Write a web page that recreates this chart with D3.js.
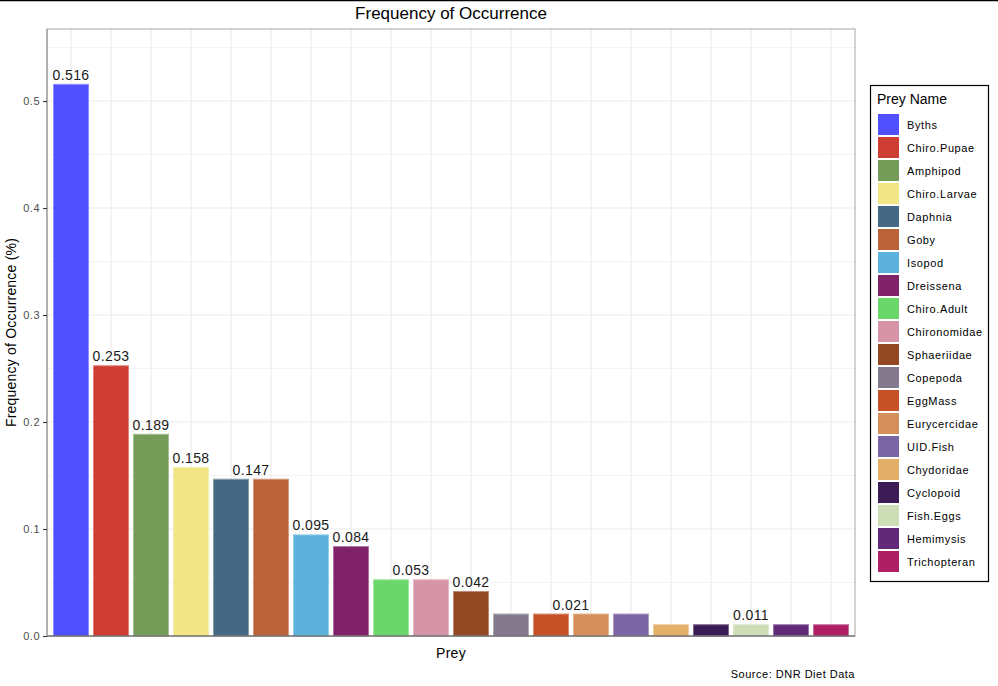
<!DOCTYPE html>
<html><head><meta charset="utf-8">
<script src="https://cdn.jsdelivr.net/npm/d3@7"></script>
<style>body{margin:0;background:#fff;} svg{display:block;font-family:Arial,"Liberation Sans",sans-serif;}</style>
</head><body>
<svg id="chart" width="998" height="686"></svg>
<script>
const categories = ["Byths","Chiro.Pupae","Amphipod","Chiro.Larvae","Daphnia","Goby","Isopod","Dreissena","Chiro.Adult","Chironomidae","Sphaeriidae","Copepoda","EggMass","Eurycercidae","UID.Fish","Chydoridae","Cyclopoid","Fish.Eggs","Hemimysis","Trichopteran"];
const values = [0.516,0.253,0.189,0.158,0.147,0.147,0.095,0.084,0.053,0.053,0.042,0.021,0.021,0.021,0.021,0.011,0.011,0.011,0.011,0.011];
const colors = ["#5050ff","#ce3d32","#749b58","#f0e685","#466983","#ba6338","#5db1dd","#802268","#6bd76b","#d595a7","#924822","#837b8d","#c75127","#d58f5c","#7a65a5","#e4af69","#3b1b53","#cddeb7","#612a79","#ae1f63"];
const yTicks = [0,0.1,0.2,0.3,0.4,0.5];

const svg = d3.select("#chart");
const L=47, R=855, T=29, B=636;
const x = d3.scaleBand().domain(categories).range([L,R]).paddingInner(0.1).paddingOuter(0.55);
// ggplot discrete: 0.6 unit expansion each side, bar width 0.9
const unit = (R-L)/(categories.length+0.2);
const cx = i => L + (0.6 + i)*unit;
const y = d3.scaleLinear().domain([0, 0.5673]).range([B,T]);

// top border line
svg.append("line").attr("x1",0).attr("x2",998).attr("y1",0.5).attr("y2",0.5).attr("stroke","#000").attr("stroke-width",1.5);

// grid
const g = svg.append("g");
const minor = [0.05,0.15,0.25,0.35,0.45,0.55];
minor.forEach(v=>g.append("line").attr("x1",L).attr("x2",R).attr("y1",y(v)).attr("y2",y(v)).attr("stroke","#ebebeb").attr("stroke-width",0.6));
yTicks.forEach(v=>g.append("line").attr("x1",L).attr("x2",R).attr("y1",y(v)).attr("y2",y(v)).attr("stroke","#ebebeb").attr("stroke-width",1.1));
categories.forEach((c,i)=>g.append("line").attr("x1",cx(i)).attr("x2",cx(i)).attr("y1",T).attr("y2",B).attr("stroke","#ebebeb").attr("stroke-width",1.1));

// bars
svg.append("g").selectAll("rect").data(categories).join("rect")
  .attr("x",(d,i)=>cx(i)-0.45*unit+0.5).attr("width",0.9*unit-1)
  .attr("y",(d,i)=>y(values[i])+0.5).attr("height",(d,i)=>B-y(values[i])-0.5)
  .attr("fill",(d,i)=>colors[i])
  .attr("stroke",(d,i)=>{const c=d3.interpolateRgb(colors[i],"#ffffff")(0.35);return c;})
  .attr("stroke-width",1);

// labels: one per distinct value at mean position
const groups = d3.groups(values.map((v,i)=>({v,i})), d=>d.v);
groups.forEach(([v,arr])=>{
  const mx = d3.mean(arr,d=>cx(d.i));
  svg.append("text").attr("x",mx).attr("y",y(v)-4).attr("text-anchor","middle")
    .attr("font-size",14).attr("fill","#1a1a1a").attr("letter-spacing",0.4).text(v.toFixed(3));
});

// panel border
svg.append("rect").attr("x",L).attr("y",T).attr("width",R-L).attr("height",B-T).attr("fill","none").attr("stroke","#a6a6a6").attr("stroke-width",1);
svg.append("line").attr("x1",L).attr("x2",R).attr("y1",B).attr("y2",B).attr("stroke","#555").attr("stroke-width",1.2);
svg.append("line").attr("x1",L).attr("x2",L).attr("y1",T).attr("y2",B).attr("stroke","#999").attr("stroke-width",1.2);

// y axis
const ya = svg.append("g").attr("transform",`translate(${L},0)`)
  .call(d3.axisLeft(y).tickValues(yTicks).tickFormat(d3.format(".1f")).tickSize(4).tickPadding(3));
ya.select(".domain").remove();
ya.selectAll(".tick line").attr("stroke","#333").attr("stroke-width",1.1);
ya.selectAll(".tick text").attr("font-size",11).attr("fill","#4d4d4d").attr("font-family","Arial,'Liberation Sans',sans-serif").attr("letter-spacing",0.5);

// titles
svg.append("text").attr("x",(L+R)/2).attr("y",19).attr("text-anchor","middle").attr("font-size",17).attr("fill","#000").text("Frequency of Occurrence");
svg.append("text").attr("x",(L+R)/2).attr("y",658).attr("text-anchor","middle").attr("font-size",14).attr("fill","#000").attr("letter-spacing",0.3).text("Prey");
svg.append("text").attr("transform",`translate(16,${(T+B)/2}) rotate(-90)`).attr("text-anchor","middle").attr("font-size",14).attr("fill","#000").attr("letter-spacing",0.2).text("Frequency of Occurrence (%)");
svg.append("text").attr("x",R).attr("y",678).attr("text-anchor","end").attr("font-size",11).attr("fill","#000").attr("letter-spacing",0.5).text("Source: DNR Diet Data");

// legend
const lg = svg.append("g");
lg.append("rect").attr("x",870.5).attr("y",85.5).attr("width",118).attr("height",496).attr("fill","#fff").attr("stroke","#000").attr("stroke-width",1.2);
lg.append("text").attr("x",877).attr("y",104).attr("font-size",14).attr("fill","#000").text("Prey Name");
categories.forEach((c,i)=>{
  const yy = 114 + i*23;
  lg.append("rect").attr("x",878).attr("y",yy).attr("width",21).attr("height",21).attr("fill",colors[i]);
  lg.append("text").attr("x",907).attr("y",yy+15).attr("font-size",11).attr("fill","#000").attr("letter-spacing",0.6).text(c);
});
</script>
</body></html>
